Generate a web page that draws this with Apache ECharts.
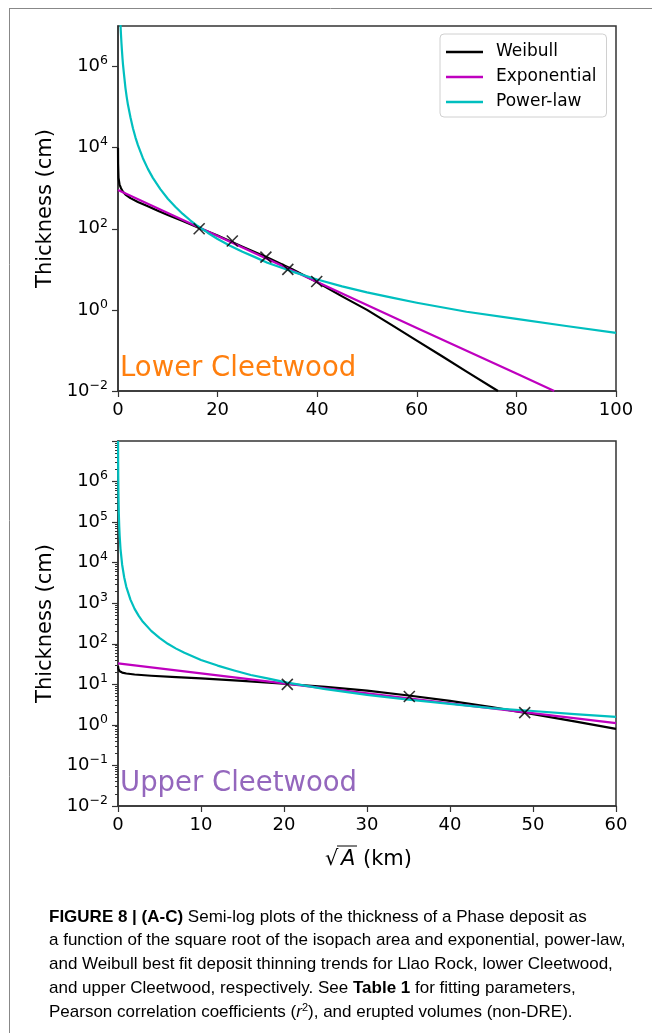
<!DOCTYPE html>
<html><head><meta charset="utf-8">
<script src="https://cdn.jsdelivr.net/npm/echarts@6/dist/echarts.min.js"></script>
<style>html,body{margin:0;padding:0;background:#fff}#c{width:652px;height:1033px}</style>
</head><body><div id="c"></div>
<script>
// ---- Panel: Lower Cleetwood (x: sqrt(A) km, y: thickness cm) ----
const lowerObsX = [16.3, 22.95, 29.7, 34.1, 39.9];
const lowerObsT = [100, 50, 20, 10, 5];
const lowerWeibullX = [0, 0.02, 0.1, 0.3, 0.6, 1, 1.5, 2.5, 4, 6, 8, 10, 13, 16.3, 20, 25, 30, 35, 40, 45, 50, 55, 60, 65, 70, 76.3];
const lowerWeibullT = [10000, 4000, 1800, 1250, 1000, 820, 700, 570, 460, 360, 280, 220, 155, 104, 68, 36, 19.5, 10, 4.8, 2.15, 1.0, 0.42, 0.175, 0.073, 0.030, 0.01];
const lowerExpX = [0, 20, 40, 60, 80, 87.6];
const lowerExpT = [900, 66, 4.9, 0.36, 0.027, 0.01];
const lowerPowX = [0.45, 0.5, 0.55, 0.6, 0.7, 0.8, 0.9, 1, 1.2, 1.5, 1.75, 2, 2.5, 3, 3.5, 4, 5, 6, 7, 8.5, 10, 11.5, 13, 14.5, 16, 18, 20, 22.5, 25, 27.5, 30, 35, 40, 45, 50, 55, 60, 70, 80, 90, 100];
const lowerPowT = [1.6e7, 1.1e7, 8.0e6, 6.1e6, 3.7e6, 2.4e6, 1.6e6, 1.13e6, 6.5e5, 2.95e5, 1.77e5, 1.14e5, 5.6e4, 3.0e4, 1.8e4, 1.15e4, 5500, 3000, 1800, 950, 550, 350, 232, 162, 117, 80, 56, 38, 27, 20, 14.6, 8.8, 5.6, 3.8, 2.7, 2.0, 1.5, 0.9, 0.6, 0.4, 0.27];

// ---- Panel: Upper Cleetwood ----
const upperObsX = [20.4, 35.1, 49.0];
const upperObsT = [10, 5, 2];
const upperWeibullX = [0, 0.05, 0.2, 0.5, 1, 2, 4, 7, 10, 15, 20.4, 25, 30, 35, 40, 45, 50, 55, 60];
const upperWeibullT = [28, 24, 21, 19.5, 18.5, 17.5, 16.3, 15, 14, 12.2, 10.2, 8.7, 7.0, 5.3, 3.9, 2.75, 1.85, 1.22, 0.8];
const upperExpX = [0, 20, 40, 60];
const upperExpT = [33, 10.6, 3.4, 1.1];
const upperPowX = [0.01, 0.015, 0.02, 0.03, 0.05, 0.075, 0.1, 0.15, 0.2, 0.3, 0.5, 0.75, 1, 1.5, 2, 2.5, 3, 4, 5, 6, 7, 8, 10, 12, 14, 16, 18, 20.4, 25, 30, 35, 40, 45, 50, 55, 60];
const upperPowT = [1e7, 4.8e6, 2.9e6, 1.4e6, 5.6e5, 2.7e5, 1.6e5, 7.8e4, 4.6e4, 2.2e4, 8900, 4300, 2540, 1230, 726, 486, 349, 208, 140, 100, 76, 60, 40, 29, 22, 17, 14, 11, 7.6, 5.5, 4.2, 3.3, 2.6, 2.2, 1.84, 1.57];

// axis tick settings
const lowerXTicks = {min: 0, max: 100, interval: 20};
const upperXTicks = {min: 0, max: 60, interval: 10};
const yRange = {min: 0.01, max: 1e7};

const seriesNames = ['Weibull', 'Exponential', 'Power-law'];
const colors = {Weibull: '#000000', Exponential: '#bf00bf', 'Power-law': '#00bfbf'};
const FONT = 'DejaVu Sans';

function zip(xs, ys) { return xs.map((x, i) => [x, ys[i]]); }

function yLabel(v) {
  const e = Math.round(Math.log10(v));
  const s = e < 0 ? '\u2212' + (-e) : String(e);
  return '{b|10}{s|' + s + '}';
}
const yRich = {
  b: {fontSize: 18, fontFamily: FONT, color: '#000', lineHeight: 24},
  s: {fontSize: 12.5, fontFamily: FONT, color: '#000', lineHeight: 12, verticalAlign: 'top'}
};

function xAxisOf(gi, t) {
  return {
    type: 'value', gridIndex: gi, min: t.min, max: t.max, interval: t.interval,
    axisLine: {onZero: false, lineStyle: {color: '#333', width: 1.5}},
    axisTick: {length: 6, lineStyle: {color: '#333', width: 1.2}},
    axisLabel: {fontSize: 18, fontFamily: FONT, color: '#000', margin: 10, showMaxLabel: true},
    splitLine: {show: false}
  };
}
function yAxisOf(gi, interval, minor) {
  return {
    type: 'log', logBase: 10, gridIndex: gi, min: yRange.min, max: yRange.max, interval: interval,
    name: 'Thickness (cm)', nameLocation: 'middle', nameGap: 60,
    nameTextStyle: {fontSize: 21, fontFamily: FONT, color: '#000'},
    axisLine: {lineStyle: {color: '#333', width: 1.5}},
    axisTick: {length: 6, lineStyle: {color: '#333', width: 1.2}},
    minorTick: {show: minor, splitNumber: 9, length: 3, lineStyle: {color: '#333', width: 1}},
    axisLabel: {formatter: yLabel, rich: yRich, margin: 10, showMaxLabel: false, showMinLabel: true},
    splitLine: {show: false}, minorSplitLine: {show: false}
  };
}

function lineSeries(name, gi, xs, ys) {
  return {
    name: name, type: 'line', xAxisIndex: gi, yAxisIndex: gi,
    data: zip(xs, ys), showSymbol: false, symbol: 'none', smooth: false,
    lineStyle: {color: colors[name], width: 2.2, join: 'round'}, itemStyle: {color: colors[name]},
    clip: true, z: 3
  };
}
function obsSeries(gi, xs, ys) {
  return {
    name: 'Observed', type: 'scatter', xAxisIndex: gi, yAxisIndex: gi,
    data: zip(xs, ys), symbol: 'path://M0,0L10,10M10,0L0,10', symbolSize: 11,
    itemStyle: {color: 'transparent', borderColor: '#000', borderWidth: 1.6}, z: 5
  };
}

const caption = [
  '{b|FIGURE 8 | (A-C)}{n| Semi-log plots of the thickness of a Phase deposit as}',
  '{n|a function of the square root of the isopach area and exponential, power-law,}',
  '{n|and Weibull best fit deposit thinning trends for Llao Rock, lower Cleetwood,}',
  '{n|and upper Cleetwood, respectively. See }{b|Table 1}{n| for fitting parameters,}',
  '{n|Pearson correlation coefficients (}{i|r}{s|2}{n|), and erupted volumes (non-DRE).}'
];
const capRich = {
  n: {fontSize: 17, fontFamily: 'Liberation Sans', color: '#222', lineHeight: 20},
  b: {fontSize: 17, fontFamily: 'Liberation Sans', fontWeight: 'bold', color: '#222', lineHeight: 20},
  i: {fontSize: 17, fontFamily: 'Liberation Sans', fontStyle: 'italic', color: '#222', lineHeight: 20},
  s: {fontSize: 11, fontFamily: 'Liberation Sans', color: '#222', lineHeight: 11, verticalAlign: 'top'}
};

const graphics = [
  {type: 'line', shape: {x1: 9, y1: 8.5, x2: 652, y2: 8.5}, style: {stroke: '#888', lineWidth: 1}, silent: true},
  {type: 'line', shape: {x1: 9.5, y1: 8, x2: 9.5, y2: 1033}, style: {stroke: '#888', lineWidth: 1}, silent: true},
  {type: 'text', x: 120, y: 369, style: {text: 'Lower Cleetwood', font: '27.5px "DejaVu Sans"', fill: '#ff7f0e', textVerticalAlign: 'middle'}, z: 10},
  {type: 'text', x: 120, y: 784, style: {text: 'Upper Cleetwood', font: '27.5px "DejaVu Sans"', fill: '#9467bd', textVerticalAlign: 'middle'}, z: 10},
  {type: 'text', x: 325, y: 860, style: {text: '\u221A', font: '21px "DejaVu Sans"', fill: '#000', textVerticalAlign: 'middle'}},
  {type: 'text', x: 341, y: 860, style: {text: 'A', font: 'italic 21px "DejaVu Sans"', fill: '#000', textVerticalAlign: 'middle'}},
  {type: 'line', shape: {x1: 337, y1: 846, x2: 357, y2: 846}, style: {stroke: '#000', lineWidth: 1}},
  {type: 'text', x: 363, y: 860, style: {text: '(km)', font: '21px "DejaVu Sans"', fill: '#000', textVerticalAlign: 'middle'}}
];
caption.forEach((line, i) => {
  graphics.push({type: 'text', x: 49, y: 917 + i * 23.8, style: {text: line, rich: capRich, textVerticalAlign: 'middle'}});
});

const option = {
  backgroundColor: '#fff',
  animation: false,
  grid: [
    {left: 118, top: 26, width: 498, height: 365, show: true, borderColor: '#333', borderWidth: 1.5, backgroundColor: 'transparent'},
    {left: 118, top: 441, width: 498, height: 365, show: true, borderColor: '#333', borderWidth: 1.5, backgroundColor: 'transparent'}
  ],
  xAxis: [xAxisOf(0, lowerXTicks), xAxisOf(1, upperXTicks)],
  yAxis: [yAxisOf(0, 2, false), yAxisOf(1, 1, true)],
  legend: {
    data: seriesNames, orient: 'vertical', left: 440, top: 34,
    icon: 'rect', itemWidth: 37, itemHeight: 2.5, itemGap: 5,
    textStyle: {fontSize: 17, fontFamily: FONT, color: '#000', lineHeight: 20, padding: [0, 0, 0, 8]},
    backgroundColor: '#fff', borderColor: '#d0d0d0', borderWidth: 1, borderRadius: 4,
    padding: [8, 10, 5, 6], selectedMode: false
  },
  series: [
    lineSeries('Weibull', 0, lowerWeibullX, lowerWeibullT),
    lineSeries('Exponential', 0, lowerExpX, lowerExpT),
    lineSeries('Power-law', 0, lowerPowX, lowerPowT),
    obsSeries(0, lowerObsX, lowerObsT),
    lineSeries('Weibull', 1, upperWeibullX, upperWeibullT),
    lineSeries('Exponential', 1, upperExpX, upperExpT),
    lineSeries('Power-law', 1, upperPowX, upperPowT),
    obsSeries(1, upperObsX, upperObsT)
  ],
  graphic: graphics
};
const chart = echarts.init(document.getElementById('c'), null, {renderer: 'canvas'});
chart.setOption(option);
</script></body></html>
